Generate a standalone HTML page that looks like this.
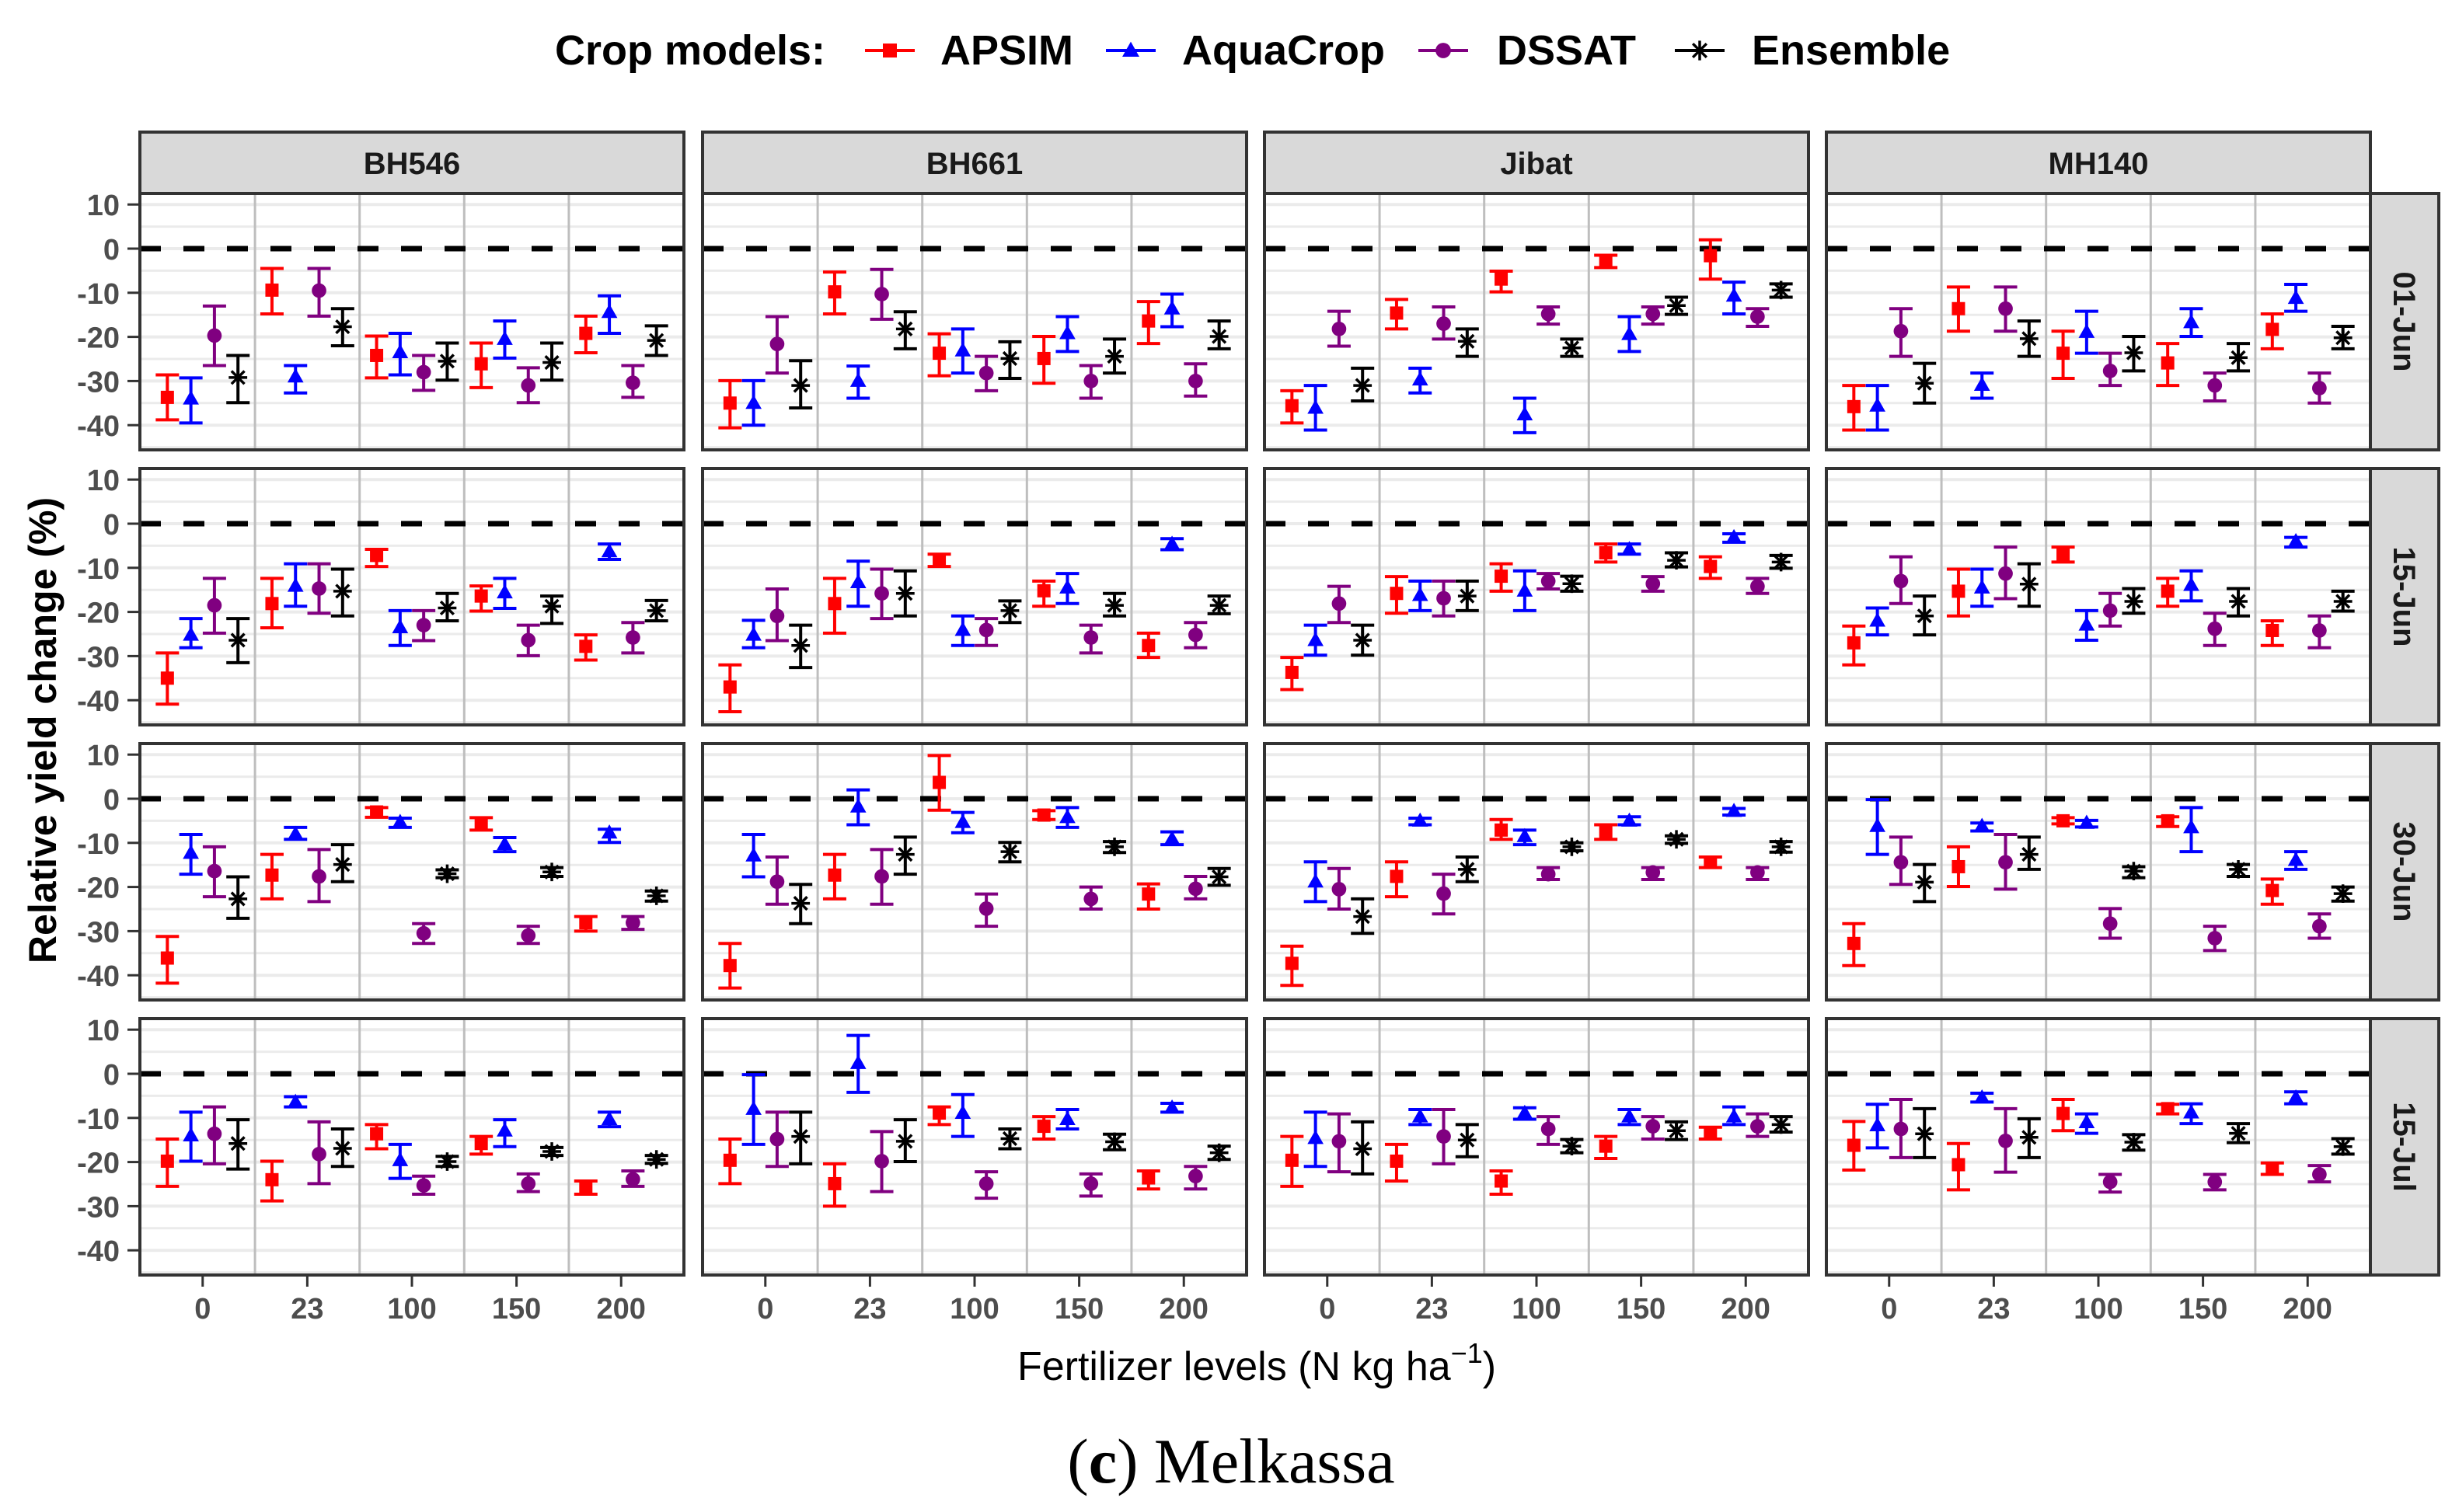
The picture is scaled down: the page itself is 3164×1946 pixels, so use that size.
<!DOCTYPE html>
<html><head><meta charset="utf-8"><title>Relative yield change — Melkassa</title>
<style>
html,body{margin:0;padding:0;background:#fff;}
svg{display:block;}
text{font-family:"Liberation Sans",Arial,sans-serif;}
</style></head>
<body>
<svg id="chart" xmlns="http://www.w3.org/2000/svg" width="3164" height="1946" viewBox="0 0 3164 1946">
<rect x="0" y="0" width="3164" height="1946" fill="#fff"/>
<g id="legend">
<text x="714" y="83" font-size="54" font-weight="bold" fill="#000">Crop models:</text>
</g>
<g id="panels"></g>
<text transform="translate(72,940) rotate(-90)" text-anchor="middle" font-size="50" font-weight="bold" fill="#000">Relative yield change (%)</text>
<text x="1617" y="1776" text-anchor="middle" font-size="52" fill="#000">Fertilizer levels (N kg ha<tspan dy="-22" font-size="36">−1</tspan><tspan dy="22">)</tspan></text>
<text x="1584" y="1908" text-anchor="middle" font-size="82" fill="#000" style="font-family:'Liberation Serif',serif">(<tspan font-weight="bold">c</tspan>) Melkassa</text>
</svg>
<script>
// ---- data ----
const categories = ["0","23","100","150","200"];
const models = ["APSIM","AquaCrop","DSSAT","Ensemble"];
const varieties = ["BH546","BH661","Jibat","MH140"];
const dates = ["01-Jun","15-Jun","30-Jun","15-Jul"];
const yTicks = [10,0,-10,-20,-30,-40];
// each array: 5 fertilizer groups x [APSIM, AquaCrop, DSSAT, Ensemble]
// 01-Jun
const mean_BH546_01Jun = [-33.7,-34,-19.7,-29.2, -9.4,-29,-9.5,-17.7, -24.2,-23.5,-28,-25.5, -26.1,-20.5,-31,-25.8, -19.2,-14.4,-30.4,-20.8];
const lo_BH546_01Jun   = [-38.8,-39.5,-26.5,-34.9, -14.8,-32.7,-15.3,-22, -29.3,-28.6,-32.1,-29.8, -31.5,-24.8,-34.9,-29.8, -23.6,-19.2,-33.7,-24.2];
const hi_BH546_01Jun   = [-28.6,-29.3,-13,-24.2, -4.5,-26.5,-4.5,-13.6, -19.8,-19.2,-24.2,-21.4, -21.4,-16.4,-27,-21.4, -15.3,-10.7,-26.5,-17.5];
const mean_BH661_01Jun = [-35,-35,-21.6,-31, -9.8,-30,-10.3,-18.2, -23.7,-23.1,-28.2,-24.9, -24.9,-19.2,-30,-24.4, -16.4,-13.6,-30,-19.9];
const lo_BH661_01Jun   = [-40.6,-40,-28.2,-36.1, -14.8,-33.9,-16,-22.7, -28.8,-28.2,-32.2,-29.4, -30.5,-23.3,-33.9,-28.2, -21.5,-17.7,-33.4,-22.7];
const hi_BH661_01Jun   = [-29.9,-29.9,-15.4,-25.4, -5.3,-26.6,-4.7,-14.3, -19.3,-18.2,-24.4,-21.1, -19.9,-15.4,-26.5,-20.5, -12,-10.3,-26.1,-16.4];
const mean_Jibat_01Jun = [-35.6,-36.1,-18.2,-31, -14.6,-29.7,-17,-21, -6.9,-37.6,-14.8,-22.5, -2.8,-19.4,-14.8,-12.9, -1.6,-10.7,-15.4,-9.4];
const lo_Jibat_01Jun   = [-39.5,-41.1,-22.1,-34.5, -18.2,-32.7,-20.5,-24.4, -9.8,-41.7,-17.1,-24.4, -4.3,-23.3,-17.1,-14.9, -6.9,-14.8,-17.6,-11];
const hi_Jibat_01Jun   = [-32.2,-31,-14.2,-27.1, -11.5,-27.1,-13.2,-18.2, -5.1,-33.9,-13.2,-20.5, -1.5,-15.4,-13.2,-11, 2,-7.6,-13.6,-8];
const mean_MH140_01Jun = [-35.8,-35.6,-18.7,-30.5, -13.6,-30.9,-13.6,-20.4, -23.7,-18.9,-27.7,-23.6, -25.9,-16.7,-31,-24.7, -18.3,-11.2,-31.6,-20.2];
const lo_MH140_01Jun   = [-41.1,-41.1,-24.4,-35, -18.7,-33.9,-18.7,-24.4, -29.4,-23.7,-31,-27.7, -31,-19.9,-34.5,-27.7, -22.7,-14.2,-35,-22.7];
const hi_MH140_01Jun   = [-31,-31,-13.6,-26, -8.7,-28.2,-8.7,-16.4, -18.7,-14.2,-23.7,-19.9, -21.5,-13.6,-28.2,-21.5, -14.8,-8.1,-28.2,-17.6];
// 15-Jun
const mean_BH546_15Jun = [-35,-25.2,-18.5,-26.4, -18.1,-14.1,-14.7,-15.3, -7.2,-23.5,-23,-19.1, -16.4,-15.6,-26.4,-18.7, -27.8,-6.3,-25.8,-19.7];
const lo_BH546_15Jun   = [-40.9,-28.1,-24.8,-31.5, -23.6,-18.7,-20.3,-20.9, -9.7,-27.6,-26.5,-22, -19.8,-19.2,-29.9,-22.6, -30.9,-8.1,-29.3,-22];
const hi_BH546_15Jun   = [-29.3,-21.5,-12.4,-21.5, -12.4,-9.1,-9.1,-10.3, -5.8,-19.7,-19.7,-15.8, -14.1,-12.4,-23,-16.4, -25.2,-4.6,-22.4,-17.4];
const mean_BH661_15Jun = [-37,-25.2,-20.9,-27.6, -18.1,-13.3,-15.8,-15.8, -8.3,-24.1,-24.1,-19.7, -15.2,-14.5,-25.8,-18.5, -27.6,-4.6,-25.2,-18.5];
const lo_BH661_15Jun   = [-42.6,-28.1,-26.5,-32.6, -24.8,-18.7,-21.5,-20.9, -9.7,-27.6,-27.6,-22.4, -18.7,-18.1,-29.3,-20.9, -30.3,-5.9,-28.1,-20.4];
const hi_BH661_15Jun   = [-32,-21.9,-14.8,-23, -12.4,-8.5,-10.3,-10.7, -6.9,-20.9,-21.5,-17.5, -13,-11.3,-23,-15.8, -24.8,-3.4,-22.4,-16.4];
const mean_Jibat_15Jun = [-33.7,-26.4,-18.1,-26.4, -15.8,-16.2,-16.9,-16.4, -11.9,-15.2,-13,-13.6, -6.6,-5.8,-13.6,-8.3, -9.7,-3.1,-14.2,-8.7];
const lo_Jibat_15Jun   = [-37.6,-29.8,-22.4,-29.8, -20.3,-19.7,-20.9,-19.7, -15.3,-19.7,-14.8,-15.3, -8.7,-6.9,-15.3,-9.8, -12.4,-4.2,-15.8,-10.1];
const hi_Jibat_15Jun   = [-30.3,-23,-14.2,-23, -12,-13,-13,-13, -9.1,-10.7,-11.3,-11.9, -4.6,-4.6,-12,-6.6, -7.5,-2.3,-12.4,-7.2];
const mean_MH140_15Jun = [-27,-22,-13,-20.9, -15.3,-14.5,-11.3,-13.7, -6.9,-22.9,-19.7,-17.6, -15.3,-13.9,-23.8,-17.6, -24.2,-4,-24.2,-17.6];
const lo_MH140_15Jun   = [-32,-25.2,-18.1,-25.2, -20.9,-18.7,-17,-18.7, -8.7,-26.4,-23.2,-20.3, -18.7,-17.5,-27.6,-20.9, -27.6,-5.3,-28.1,-19.8];
const hi_MH140_15Jun   = [-23.2,-19.1,-7.5,-16.4, -10.3,-10.3,-5.3,-9.1, -5.3,-19.7,-15.8,-14.7, -12.4,-10.7,-20.3,-14.7, -22,-3.1,-20.9,-15.3];
// 30-Jun
const mean_BH546_30Jun = [-36.1,-12.3,-16.4,-22.7, -17.3,-8,-17.6,-14.9, -3,-5.3,-30.5,-17, -5.6,-10.3,-31,-16.6, -28.1,-7.7,-28.1,-22];
const lo_BH546_30Jun   = [-41.8,-17.1,-22.2,-27.1, -22.7,-9.2,-23.3,-18.8, -4.2,-6.5,-32.8,-17.9, -7.1,-12,-32.8,-17.6, -30,-9.9,-29.6,-23.2];
const hi_BH546_30Jun   = [-31.2,-8.1,-10.9,-17.7, -12.6,-6.5,-11.5,-10.4, -2,-4.4,-28.3,-16.1, -4.3,-8.8,-28.9,-15.6, -26.7,-6.9,-26.7,-20.9];
const mean_BH661_30Jun = [-37.8,-12.9,-18.8,-23.7, -17.3,-1.8,-17.6,-12.6, 3.7,-5.3,-24.9,-12, -3.7,-4.2,-22.7,-10.9, -21.6,-9.1,-20.4,-17.7];
const lo_BH661_30Jun   = [-42.9,-17.7,-23.9,-28.3, -22.7,-5.9,-23.9,-17.1, -2.6,-7.7,-28.9,-14.3, -4.7,-6.5,-25,-12.2, -25,-10.4,-22.7,-19.6];
const hi_BH661_30Jun   = [-32.8,-8.1,-13.2,-19.4, -12.6,2,-11.5,-8.7, 9.8,-3.1,-21.6,-9.9, -2.7,-2,-20,-9.7, -19.3,-7.5,-17.6,-15.8];
const mean_Jibat_30Jun = [-37.3,-18.8,-20.5,-26.7, -17.6,-5,-21.5,-16, -7.1,-8.5,-17.1,-10.9, -7.7,-5,-16.7,-9.2, -14.4,-2.8,-16.7,-10.9];
const lo_Jibat_30Jun   = [-42.3,-23.3,-25,-30.5, -22.2,-5.9,-26.1,-18.8, -9.2,-10.4,-18.3,-11.8, -9.2,-5.9,-18.3,-10.1, -15.6,-3.7,-18.3,-12.1];
const hi_Jibat_30Jun   = [-33.4,-14.3,-15.8,-22.7, -14.3,-4.4,-17.1,-13.2, -4.7,-7.1,-15.6,-10, -5.9,-4.1,-15.6,-8.4, -13.2,-2.2,-15.6,-9.7];
const mean_MH140_30Jun = [-32.8,-6.2,-14.4,-18.9, -15.4,-6.2,-14.4,-12.6, -5,-5.5,-28.3,-16.4, -5,-6.5,-31.6,-16, -20.8,-13.9,-28.9,-21.5];
const lo_MH140_30Jun   = [-37.8,-12.6,-19.4,-23.3, -19.9,-7.3,-20.5,-16, -5.7,-6.4,-31.6,-17.9, -6.3,-12,-34.4,-17.6, -23.9,-16,-31.6,-23.2];
const hi_MH140_30Jun   = [-28.3,-0.2,-8.7,-14.9, -10.9,-5.5,-8.1,-8.7, -4.3,-4.9,-24.9,-15.4, -4.1,-2,-28.9,-14.9, -18.2,-12,-26.1,-20];
// 15-Jul
const mean_BH546_15Jul = [-19.8,-14,-13.6,-15.8, -24,-6.4,-18.2,-16.9, -13.6,-19.6,-25.3,-19.9, -15.8,-12.9,-24.9,-17.6, -25.7,-10.3,-23.9,-19.4];
const lo_BH546_15Jul   = [-25.5,-19.8,-20.4,-21.6, -28.8,-7.5,-24.9,-21, -17,-23.7,-27.3,-21, -18.2,-16.5,-26.7,-18.5, -27.3,-12,-25.5,-20.3];
const hi_BH546_15Jul   = [-14.8,-8.7,-7.5,-10.4, -19.8,-5.2,-10.9,-12.5, -11.5,-16,-23.2,-18.7, -14.2,-10.4,-22.7,-16.7, -24.3,-8.7,-22,-18.5];
const mean_BH661_15Jul = [-19.6,-8,-14.8,-14.2, -24.9,2.4,-19.8,-15.3, -8.9,-8.9,-24.9,-14.7, -11.9,-10.3,-24.9,-15.4, -23.6,-7.7,-23.2,-17.9];
const lo_BH661_15Jul   = [-24.9,-16,-21,-20.4, -30,-4.2,-26.7,-19.9, -11.5,-14.2,-28.2,-17, -14.8,-12.5,-27.7,-17.2, -26.1,-8.7,-26.1,-19.4];
const hi_BH661_15Jul   = [-14.8,-0.2,-8.7,-8.7, -20.4,8.7,-13.1,-10.4, -7.5,-4.7,-22.2,-12.5, -9.7,-8.1,-22.7,-13.7, -22,-6.7,-21,-16.4];
const mean_Jibat_15Jul = [-19.6,-14.6,-15.3,-17, -19.8,-9.7,-14.2,-15, -24.3,-8.9,-12.5,-16.4, -16.4,-9.7,-11.9,-12.9, -13.5,-9.7,-11.9,-11.5];
const lo_Jibat_15Jul   = [-25.5,-21,-22.2,-22.7, -24.3,-11.5,-20.4,-18.8, -27.3,-10.3,-16,-17.9, -19.2,-11.5,-14.8,-14.9, -14.8,-11.5,-14.2,-13.2];
const hi_Jibat_15Jul   = [-14.2,-8.7,-9.1,-10.9, -16,-8.1,-8.1,-11.5, -22,-7.7,-9.7,-14.9, -14.2,-8.1,-9.7,-10.9, -12.1,-7.5,-9.1,-9.7];
const mean_MH140_15Jul = [-16.2,-11.7,-12.5,-13.6, -20.6,-5.4,-15.2,-14.4, -9,-11,-24.5,-15.5, -7.9,-8.8,-24.5,-13.5, -21.5,-5.4,-22.8,-16.5];
const lo_MH140_15Jul   = [-21.8,-16.8,-19,-19, -26.3,-6.4,-22.3,-19, -12.9,-13.5,-26.8,-17.3, -9.1,-11.3,-26.3,-15.6, -22.8,-6.8,-24.5,-18.2];
const hi_MH140_15Jul   = [-10.8,-6.9,-5.8,-7.9, -15.8,-4.4,-7.9,-10.2, -5.8,-9.1,-22.8,-13.8, -6.9,-6.8,-22.8,-11.3, -20.2,-4.1,-20.8,-14.7];

const panelMeans = {
 "BH546|01-Jun":mean_BH546_01Jun,"BH661|01-Jun":mean_BH661_01Jun,"Jibat|01-Jun":mean_Jibat_01Jun,"MH140|01-Jun":mean_MH140_01Jun,
 "BH546|15-Jun":mean_BH546_15Jun,"BH661|15-Jun":mean_BH661_15Jun,"Jibat|15-Jun":mean_Jibat_15Jun,"MH140|15-Jun":mean_MH140_15Jun,
 "BH546|30-Jun":mean_BH546_30Jun,"BH661|30-Jun":mean_BH661_30Jun,"Jibat|30-Jun":mean_Jibat_30Jun,"MH140|30-Jun":mean_MH140_30Jun,
 "BH546|15-Jul":mean_BH546_15Jul,"BH661|15-Jul":mean_BH661_15Jul,"Jibat|15-Jul":mean_Jibat_15Jul,"MH140|15-Jul":mean_MH140_15Jul};
const panelLo = {
 "BH546|01-Jun":lo_BH546_01Jun,"BH661|01-Jun":lo_BH661_01Jun,"Jibat|01-Jun":lo_Jibat_01Jun,"MH140|01-Jun":lo_MH140_01Jun,
 "BH546|15-Jun":lo_BH546_15Jun,"BH661|15-Jun":lo_BH661_15Jun,"Jibat|15-Jun":lo_Jibat_15Jun,"MH140|15-Jun":lo_MH140_15Jun,
 "BH546|30-Jun":lo_BH546_30Jun,"BH661|30-Jun":lo_BH661_30Jun,"Jibat|30-Jun":lo_Jibat_30Jun,"MH140|30-Jun":lo_MH140_30Jun,
 "BH546|15-Jul":lo_BH546_15Jul,"BH661|15-Jul":lo_BH661_15Jul,"Jibat|15-Jul":lo_Jibat_15Jul,"MH140|15-Jul":lo_MH140_15Jul};
const panelHi = {
 "BH546|01-Jun":hi_BH546_01Jun,"BH661|01-Jun":hi_BH661_01Jun,"Jibat|01-Jun":hi_Jibat_01Jun,"MH140|01-Jun":hi_MH140_01Jun,
 "BH546|15-Jun":hi_BH546_15Jun,"BH661|15-Jun":hi_BH661_15Jun,"Jibat|15-Jun":hi_Jibat_15Jun,"MH140|15-Jun":hi_MH140_15Jun,
 "BH546|30-Jun":hi_BH546_30Jun,"BH661|30-Jun":hi_BH661_30Jun,"Jibat|30-Jun":hi_Jibat_30Jun,"MH140|30-Jun":hi_MH140_30Jun,
 "BH546|15-Jul":hi_BH546_15Jul,"BH661|15-Jul":hi_BH661_15Jul,"Jibat|15-Jul":hi_Jibat_15Jul,"MH140|15-Jul":hi_MH140_15Jul};

// ---- layout ----
const NS = "http://www.w3.org/2000/svg";
const colors = ["#FF0000","#0000FF","#800080","#000000"];
const colLeft = [180, 904, 1627, 2350];
const rowTop = [249, 603, 957, 1311];
const PW = 700, PH = 330;
const yMin = -45.6, yMax = 12.5;
const stripTop = 170, stripRightW = 88;

function el(tag, attrs, parent){
  const e = document.createElementNS(NS, tag);
  for (const k in attrs) e.setAttribute(k, attrs[k]);
  if (parent) parent.appendChild(e);
  return e;
}
function xScale(c, g, m){ const u = PW/5.2; return colLeft[c] + (0.6 + g + (m-1.5)*0.225)*u; }
function xCenter(c, g){ const u = PW/5.2; return colLeft[c] + (0.6 + g)*u; }
function yScale(r, v){ return rowTop[r] + (yMax - v)/(yMax - yMin)*PH; }

function marker(parent, m, x, y, size){
  const col = colors[m];
  let e;
  if (m === 0){
    e = el("rect",{x:x-size*0.5,y:y-size*0.5,width:size,height:size,fill:col},parent);
  } else if (m === 1){
    const h = size*1.05;
    e = el("polygon",{points:`${x},${y-h*0.6} ${x-h*0.58},${y+h*0.42} ${x+h*0.58},${y+h*0.42}`,fill:col},parent);
  } else if (m === 2){
    e = el("circle",{cx:x,cy:y,r:size*0.55,fill:col},parent);
  } else {
    const s = size*0.7;
    e = el("path",{d:`M${x-s},${y}H${x+s}M${x},${y-s}V${y+s}M${x-s*0.7},${y-s*0.7}L${x+s*0.7},${y+s*0.7}M${x-s*0.7},${y+s*0.7}L${x+s*0.7},${y-s*0.7}`,stroke:col,"stroke-width":3.5,fill:"none"},parent);
  }
  return e;
}

const svg = document.getElementById("chart");
const panelsG = document.getElementById("panels");

// legend
const legendG = document.getElementById("legend");
const legX = [1113, 1423, 1825, 2155];
const legLabelX = [1210, 1521, 1926, 2254];
models.forEach((name, m) => {
  const g = el("g", {}, legendG);
  
  
  el("line",{x1:legX[m],x2:legX[m]+64,y1:65,y2:65,stroke:colors[m],"stroke-width":4},g);
  marker(g, m, legX[m]+32, 65, 18);
  const t = el("text",{x:legLabelX[m],y:83,"font-size":54,"font-weight":"bold",fill:"#000"},g);
  t.textContent = name;
});

for (let r = 0; r < 4; r++){
  for (let c = 0; c < 4; c++){
    const key = varieties[c] + "|" + dates[r];
    const means = panelMeans[key], los = panelLo[key], his = panelHi[key];
    const pg = el("g", {}, panelsG);
    
    
    const L = colLeft[c], T = rowTop[r];
    el("rect",{x:L,y:T,width:PW,height:PH,fill:"#fff"},pg);
    for (let v = 10; v >= -45; v -= 5){
      el("line",{x1:L,x2:L+PW,y1:yScale(r,v),y2:yScale(r,v),stroke:"#EBEBEB","stroke-width":v%10===0?4:3},pg);
    }
    for (let g = 1; g < 5; g++){
      const xs = colLeft[c] + (0.6 + g - 0.5)*(PW/5.2);
      el("line",{x1:xs,x2:xs,y1:T,y2:T+PH,stroke:"#BEBEBE","stroke-width":3},pg);
    }
    const zl = el("line",{x1:L,x2:L+PW,y1:yScale(r,0),y2:yScale(r,0),stroke:"#000","stroke-width":7,"stroke-dasharray":"27 29"},pg);
    
    
    for (let g = 0; g < 5; g++){
      for (let m = 0; m < 4; m++){
        const i = g*4 + m;
        const x = xScale(c, g, m);
        const eg = el("g", {}, pg);
        
        
        const y1 = yScale(r, his[i]), y2 = yScale(r, los[i]);
        el("line",{x1:x,x2:x,y1:y1,y2:y2,stroke:colors[m],"stroke-width":4},eg);
        el("line",{x1:x-15,x2:x+15,y1:y1,y2:y1,stroke:colors[m],"stroke-width":4},eg);
        el("line",{x1:x-15,x2:x+15,y1:y2,y2:y2,stroke:colors[m],"stroke-width":4},eg);
        const p = marker(eg, m, x, yScale(r, means[i]), 17);
        
        
      }
    }
    el("rect",{x:L,y:T,width:PW,height:PH,fill:"none",stroke:"#333","stroke-width":4},pg);
  }
  const ya = el("g", {}, panelsG);
  
  
  yTicks.forEach(v => {
    const y = yScale(r, v);
    el("line",{x1:164,x2:180,y1:y,y2:y,stroke:"#333","stroke-width":3},ya);
    const t = el("text",{x:154,y:y+14,"text-anchor":"end","font-size":38,"font-weight":"bold",fill:"#4D4D4D"},ya);
    t.textContent = String(v);
  });
  const sg = el("g", {}, panelsG);
  
  
  el("rect",{x:3050,y:rowTop[r],width:stripRightW,height:PH,fill:"#D9D9D9",stroke:"#333","stroke-width":4},sg);
  const st = el("text",{transform:`translate(${3050+stripRightW/2-14},${rowTop[r]+PH/2}) rotate(90)`,"text-anchor":"middle","font-size":40,"font-weight":"bold",fill:"#1A1A1A"},sg);
  st.textContent = dates[r];
}
for (let c = 0; c < 4; c++){
  const sg = el("g", {}, panelsG);
  
  
  el("rect",{x:colLeft[c],y:stripTop,width:PW,height:rowTop[0]-stripTop,fill:"#D9D9D9",stroke:"#333","stroke-width":4},sg);
  const st = el("text",{x:colLeft[c]+PW/2,y:stripTop+54,"text-anchor":"middle","font-size":40,"font-weight":"bold",fill:"#1A1A1A"},sg);
  st.textContent = varieties[c];
  const xa = el("g", {}, panelsG);
  
  
  const base = rowTop[3] + PH;
  categories.forEach((lab, g) => {
    const x = xCenter(c, g);
    el("line",{x1:x,x2:x,y1:base,y2:base+15,stroke:"#333","stroke-width":3},xa);
    const t = el("text",{x:x,y:base+56,"text-anchor":"middle","font-size":38,"font-weight":"bold",fill:"#4D4D4D"},xa);
    t.textContent = lab;
  });
}
</script>
</body></html>
